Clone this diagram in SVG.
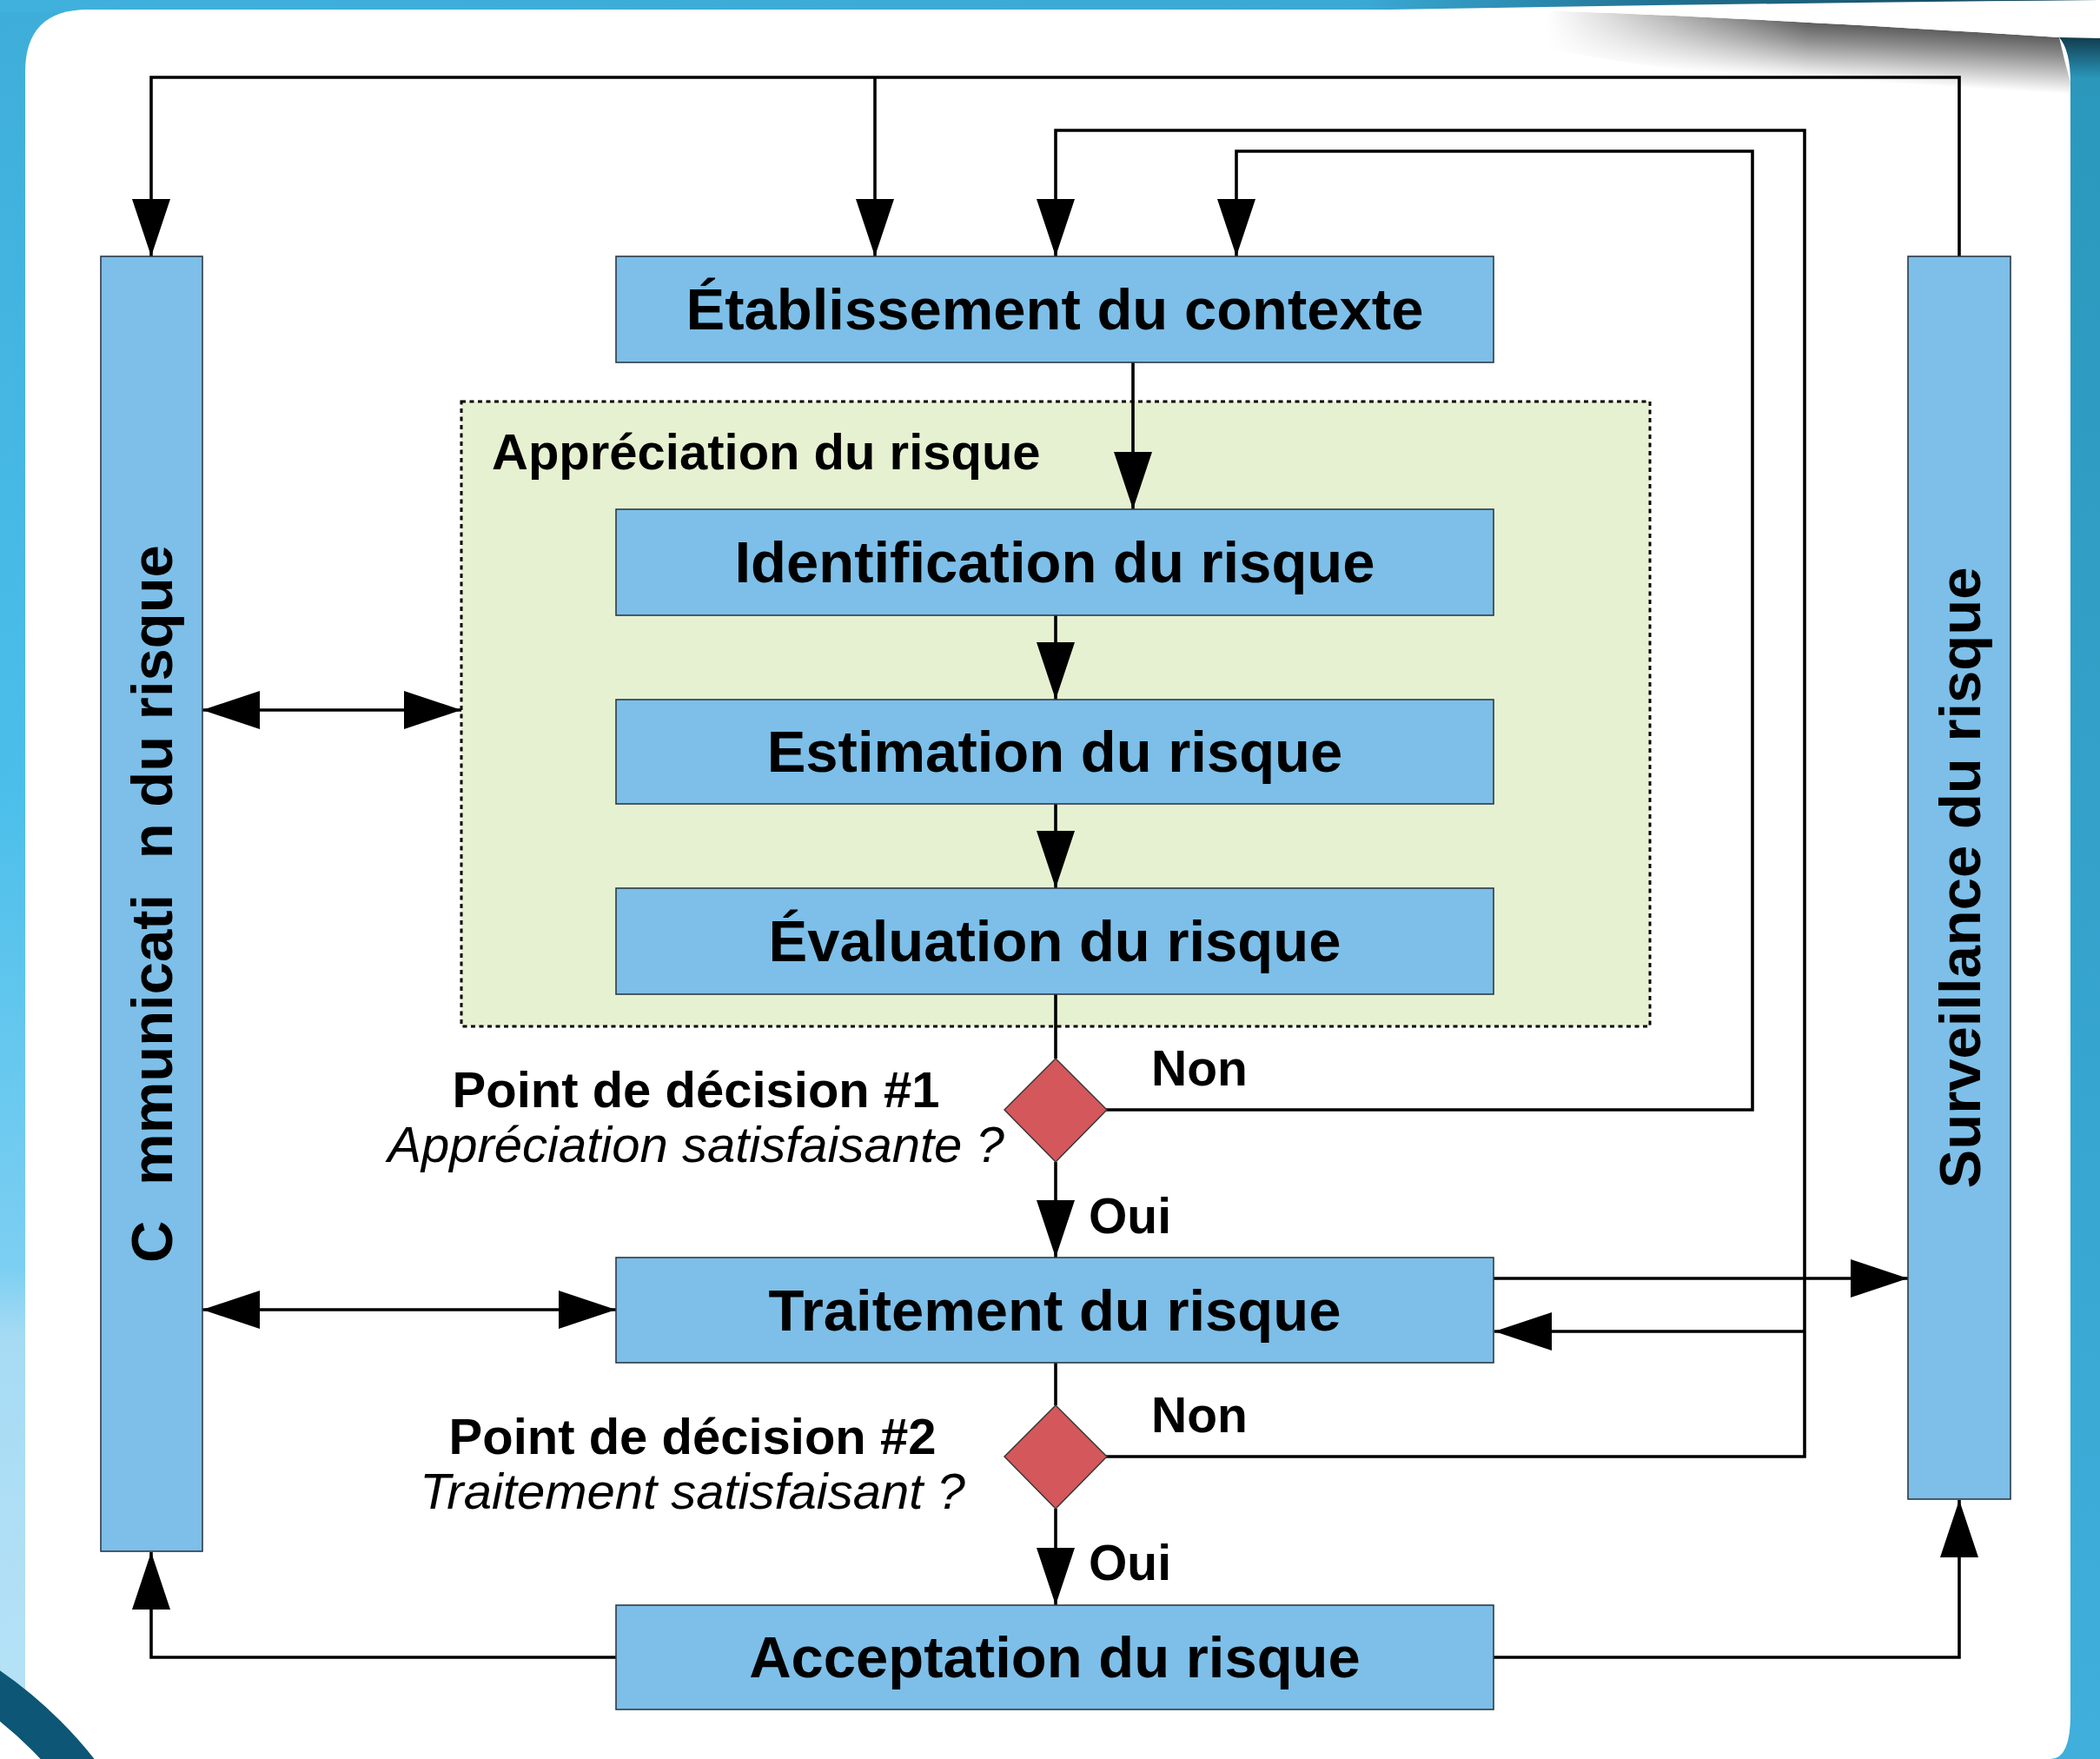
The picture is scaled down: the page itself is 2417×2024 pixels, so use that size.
<svg xmlns="http://www.w3.org/2000/svg" width="2417" height="2024" viewBox="0 0 2417 2024">
<defs>
  <linearGradient id="gTop" x1="0" y1="0" x2="2417" y2="0" gradientUnits="userSpaceOnUse">
    <stop offset="0" stop-color="#3fb1dc"/>
    <stop offset="0.65" stop-color="#3aa9d4"/>
    <stop offset="0.8" stop-color="#1f6f8e"/>
    <stop offset="1" stop-color="#143f52"/>
  </linearGradient>
  <linearGradient id="gLeft" x1="0" y1="0" x2="0" y2="2024" gradientUnits="userSpaceOnUse">
    <stop offset="0" stop-color="#3eaed9"/>
    <stop offset="0.45" stop-color="#4bbfea"/>
    <stop offset="0.72" stop-color="#7ccff2"/>
    <stop offset="0.76" stop-color="#a6dbf4"/>
    <stop offset="1" stop-color="#b8e3f7"/>
  </linearGradient>
  <linearGradient id="gRight" x1="0" y1="40" x2="0" y2="2024" gradientUnits="userSpaceOnUse">
    <stop offset="0" stop-color="#2a97bb"/>
    <stop offset="0.6" stop-color="#36a5cf"/>
    <stop offset="1" stop-color="#40afdb"/>
  </linearGradient>
  <linearGradient id="gCorner" x1="0" y1="43" x2="0" y2="90" gradientUnits="userSpaceOnUse">
    <stop offset="0" stop-color="#123c4e"/>
    <stop offset="1" stop-color="#2a97bb"/>
  </linearGradient>
  <linearGradient id="gShadow" x1="2000" y1="19" x2="1996" y2="85" gradientUnits="userSpaceOnUse">
    <stop offset="0" stop-color="#5a5a5a"/>
    <stop offset="0.35" stop-color="#8f8f8f"/>
    <stop offset="1" stop-color="#ffffff"/>
  </linearGradient>
  <linearGradient id="gFade" x1="1780" y1="0" x2="2080" y2="0" gradientUnits="userSpaceOnUse">
    <stop offset="0" stop-color="#fff" stop-opacity="0"/>
    <stop offset="1" stop-color="#fff" stop-opacity="1"/>
  </linearGradient>
  <mask id="mFade" maskUnits="userSpaceOnUse" x="0" y="0" width="2417" height="200">
    <rect x="0" y="0" width="2417" height="200" fill="url(#gFade)"/>
  </mask>
  <marker id="ah" viewBox="0 0 66 44" refX="66" refY="22" markerWidth="66" markerHeight="44" markerUnits="userSpaceOnUse" orient="auto-start-reverse">
    <path d="M0,0 L66,22 L0,44 Z" fill="#000"/>
  </marker>
  <style>
    .box { fill: #7dbfe8; stroke: #2f3a45; stroke-width: 1.6; }
    .dia { fill: #d4575b; stroke: #333; stroke-width: 1.4; }
    .con { fill: none; stroke: #000; stroke-width: 3.6; stroke-linejoin: miter; }
    .arr { marker-end: url(#ah); }
    .bi { marker-start: url(#ah); marker-end: url(#ah); }
    .lbl { font-family: "Liberation Sans", Arial, sans-serif; font-weight: bold; fill: #000; }
    .big { font-size: 67px; text-anchor: middle; }
    .mid { font-size: 58px; }
    .it { font-family: "Liberation Sans", Arial, sans-serif; font-style: italic; font-size: 58px; fill: #000; text-anchor: middle; }
  </style>
</defs>

<!-- background frame -->
<g id="background">
  <rect x="0" y="0" width="2417" height="2024" fill="#3eaed9"/>
  <rect x="0" y="0" width="60" height="2024" fill="url(#gLeft)"/>
  <rect x="2340" y="0" width="77" height="2024" fill="url(#gRight)"/>
  <rect x="0" y="0" width="2417" height="14" fill="url(#gTop)"/>
  <path d="M29,83 Q29,11 101,11 L2383,11 L2383,1973 Q2383,2024 2360,2024 L29,2024 Z" fill="#ffffff"/>
  <path d="M2370,43 L2417,43 L2417,110 L2383,110 L2383,95 Q2383,58 2370,43 Z" fill="url(#gCorner)"/>
  <path d="M1700,11 Q1900,13 2370,43 Q2376,70 2383,95 L2383,125 Q1950,95 1700,40 Z" fill="url(#gShadow)" mask="url(#mFade)"/>
  <path d="M1600,11 Q2000,4 2417,0 L2417,44 L2370,43 Q1900,13 1700,11 Z" fill="#ffffff"/>
  <circle cx="-280" cy="2330" r="448" fill="#ffffff"/>
  <circle cx="-280" cy="2330" r="471" fill="none" stroke="#0d5675" stroke-width="47"/>
</g>

<!-- appreciation group container -->
<g id="appreciation">
  <rect x="531" y="462" width="1368" height="719" fill="#e6f1d1" stroke="#000" stroke-width="3" stroke-dasharray="5,4.5"/>
  <text class="lbl mid" x="566" y="540">Appréciation du risque</text>
</g>

<!-- connectors -->
<g id="connectors">
  <path class="con arr" d="M2255,295 V89 H174 V295"/>
  <path class="con arr" d="M1007,89 V295"/>
  <path class="con arr" d="M1273,1676 H2077 V150 H1215 V295"/>
  <path class="con arr" d="M2077,1532 H1720"/>
  <path class="con arr" d="M1273,1277 H2017 V174 H1423 V295"/>
  <path class="con arr" d="M1304,417 V586"/>
  <path class="con arr" d="M1215,708 V805"/>
  <path class="con arr" d="M1215,925 V1022"/>
  <path class="con" d="M1215,1144 V1218"/>
  <path class="con arr" d="M1215,1337 V1447"/>
  <path class="con" d="M1215,1568 V1617"/>
  <path class="con arr" d="M1215,1736 V1847"/>
  <path class="con arr" d="M709,1907 H174 V1786"/>
  <path class="con arr" d="M1719,1907 H2255 V1726"/>
  <path class="con bi" d="M233,817 H531"/>
  <path class="con bi" d="M233,1507 H709"/>
  <path class="con arr" d="M1719,1471 H2196"/>
</g>

<g id="communication">
  <rect class="box" x="116" y="295" width="117" height="1490"/>
  <text class="lbl big" transform="translate(198,1040) rotate(-90)">C <tspan dx="22">mmunicati</tspan> <tspan dx="22">n du risque</tspan></text>
</g>

<g id="surveillance">
  <rect class="box" x="2196" y="295" width="118" height="1430"/>
  <text class="lbl big" transform="translate(2279,1010) rotate(-90)">Surveillance du risque</text>
</g>

<g id="etablissement">
  <rect class="box" x="709" y="295" width="1010" height="122"/>
  <text class="lbl big" x="1214" y="379">Établissement du contexte</text>
</g>

<g id="identification">
  <rect class="box" x="709" y="586" width="1010" height="122"/>
  <text class="lbl big" x="1214" y="670">Identification du risque</text>
</g>

<g id="estimation">
  <rect class="box" x="709" y="805" width="1010" height="120"/>
  <text class="lbl big" x="1214" y="888">Estimation du risque</text>
</g>

<g id="evaluation">
  <rect class="box" x="709" y="1022" width="1010" height="122"/>
  <text class="lbl big" x="1214" y="1106">Évaluation du risque</text>
</g>

<g id="decision1">
  <polygon class="dia" points="1215,1218 1274,1277 1215,1337 1156,1277"/>
  <text class="lbl mid" x="801" y="1274" text-anchor="middle">Point de décision #1</text>
  <text class="it" x="801" y="1337">Appréciation satisfaisante ?</text>
  <text class="lbl" x="1325" y="1249" font-size="57">Non</text>
  <text class="lbl" x="1253" y="1419" font-size="57">Oui</text>
</g>

<g id="traitement">
  <rect class="box" x="709" y="1447" width="1010" height="121"/>
  <text class="lbl big" x="1214" y="1531">Traitement du risque</text>
</g>

<g id="decision2">
  <polygon class="dia" points="1215,1617 1274,1676 1215,1736 1156,1676"/>
  <text class="lbl mid" x="797" y="1673" text-anchor="middle">Point de décision #2</text>
  <text class="it" x="797" y="1736">Traitement satisfaisant ?</text>
  <text class="lbl" x="1325" y="1648" font-size="57">Non</text>
  <text class="lbl" x="1253" y="1818" font-size="57">Oui</text>
</g>

<g id="acceptation">
  <rect class="box" x="709" y="1847" width="1010" height="120"/>
  <text class="lbl big" x="1214" y="1930">Acceptation du risque</text>
</g>
</svg>
